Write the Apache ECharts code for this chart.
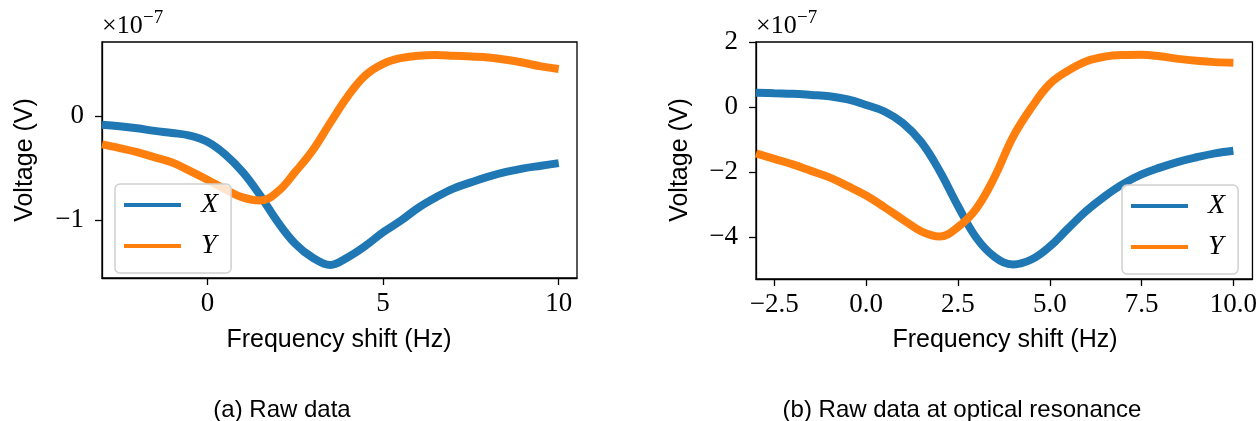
<!DOCTYPE html>
<html>
<head>
<meta charset="utf-8">
<title>Raw data</title>
<script src="https://cdn.jsdelivr.net/npm/echarts@6/dist/echarts.min.js"></script>
<style>
  html, body { margin: 0; padding: 0; background: #fff; }
  #chart { width: 1260px; height: 421px; }
</style>
</head>
<body>
<div id="chart"></div>
<script>
// frequency shift (Hz), same grid for all curves
const freq = [-3, -2.5, -2, -1.5, -1, -0.5, 0, 0.5, 1, 1.5, 2, 2.5, 3, 3.5, 4, 4.5, 5, 5.5, 6, 6.5, 7, 7.5, 8, 8.5, 9, 9.5, 10];

// (a) raw data, units of 1e-7 V
const rawX = [-0.085, -0.10, -0.12, -0.145, -0.165, -0.19, -0.25, -0.37, -0.54, -0.765, -1.02, -1.23, -1.365, -1.435, -1.36, -1.25, -1.12, -1.01, -0.885, -0.785, -0.70, -0.64, -0.585, -0.54, -0.505, -0.48, -0.455];
const rawY = [-0.275, -0.31, -0.35, -0.40, -0.45, -0.53, -0.615, -0.705, -0.785, -0.815, -0.73, -0.54, -0.33, -0.065, 0.19, 0.39, 0.50, 0.555, 0.578, 0.585, 0.578, 0.57, 0.56, 0.54, 0.51, 0.475, 0.45];

// (b) raw data at optical resonance, units of 1e-7 V
const resX = [0.44, 0.42, 0.405, 0.37, 0.33, 0.23, 0.06, -0.14, -0.50, -1.08, -1.97, -3.05, -4.03, -4.62, -4.85, -4.70, -4.30, -3.74, -3.20, -2.75, -2.37, -2.08, -1.87, -1.69, -1.55, -1.43, -1.35];
const resY = [-1.43, -1.60, -1.77, -1.97, -2.17, -2.44, -2.73, -3.09, -3.47, -3.83, -3.99, -3.70, -3.13, -2.15, -0.92, -0.02, 0.71, 1.12, 1.41, 1.55, 1.60, 1.61, 1.56, 1.48, 1.42, 1.38, 1.36];

// tick positions
const rawXTicks = [0, 5, 10];
const rawYTicks = [-1, 0];
const resXTicks = [-2.5, 0, 2.5, 5, 7.5, 10];
const resYTicks = [-4, -2, 0, 2];

const BLUE = "#1f77b4";
const ORANGE = "#ff7f0e";
const SERIF = "'Liberation Serif', 'DejaVu Serif', serif";
const SANS = "'Liberation Sans', Arial, sans-serif";

function pares(xs, ys) {
  return xs.map((x, i) => [x, ys[i]]);
}

function menos(txt) {
  return String(txt).replace("-", "\u2212");
}

function ejeX(idx, min, max, ticks, decimales) {
  return {
    type: "value",
    gridIndex: idx,
    min: min,
    max: max,
    splitLine: { show: false },
    axisLine: { show: true, onZero: false, lineStyle: { color: "#000", width: 1.3 } },
    axisTick: { show: true, customValues: ticks, length: 7, lineStyle: { color: "#000", width: 1.3 } },
    axisLabel: {
      customValues: ticks,
      margin: 12,
      color: "#000",
      fontFamily: SERIF,
      fontSize: 27,
      formatter: (v) => menos(v.toFixed(decimales)),
    },
  };
}

function ejeY(idx, min, max, ticks) {
  return {
    type: "value",
    gridIndex: idx,
    min: min,
    max: max,
    splitLine: { show: false },
    axisLine: { show: true, onZero: false, lineStyle: { color: "#000", width: 1.3 } },
    axisTick: { show: true, customValues: ticks, length: 7, lineStyle: { color: "#000", width: 1.3 } },
    axisLabel: {
      customValues: ticks,
      margin: 18,
      color: "#000",
      fontFamily: SERIF,
      fontSize: 27,
      formatter: (v) => menos(v.toFixed(0)),
    },
  };
}

function serie(nombre, idx, xs, ys, color) {
  return {
    name: nombre,
    type: "line",
    xAxisIndex: idx,
    yAxisIndex: idx,
    data: pares(xs, ys),
    showSymbol: false,
    smooth: 0.4,
    lineStyle: { color: color, width: 8 },
    itemStyle: { color: color },
    emphasis: { disabled: true },
  };
}

function leyenda(left, top) {
  return {
    data: ["X", "Y"],
    orient: "vertical",
    left: left,
    top: top,
    icon: "rect",
    itemWidth: 57,
    itemHeight: 4,
    itemGap: 13,
    padding: [7, 13, 13, 9],
    backgroundColor: "rgba(255,255,255,0.8)",
    borderColor: "#d0d0d0",
    borderWidth: 1.5,
    borderRadius: 5,
    selectedMode: false,
    textStyle: {
      fontFamily: SERIF,
      fontStyle: "italic",
      fontSize: 28,
      lineHeight: 25,
      color: "#000",
      padding: [0, 0, 0, 15],
    },
  };
}

function texto(t, x, y, size, opts) {
  return Object.assign(
    {
      type: "text",
      x: x,
      y: y,
      style: {
        text: t,
        fill: "#000",
        font: size + "px " + SANS,
        textAlign: "center",
        textVerticalAlign: "middle",
      },
    },
    opts || {}
  );
}

function exponente(x) {
  return [
    {
      type: "text",
      x: x,
      y: 26,
      style: { text: "\u00d710", fill: "#000", font: "26px " + SERIF, textAlign: "left", textVerticalAlign: "middle" },
    },
    {
      type: "text",
      x: x + 41,
      y: 18,
      style: { text: "\u22127", fill: "#000", font: "19px " + SERIF, textAlign: "left", textVerticalAlign: "middle" },
    },
  ];
}

var myChart = echarts.init(document.getElementById("chart"), null, { renderer: "canvas" });

var option = {
  animation: false,
  backgroundColor: "#fff",
  grid: [
    { left: 102, top: 42, width: 475, height: 236, show: true, borderColor: "#000", borderWidth: 1.3 },
    { left: 756, top: 42, width: 497, height: 237, show: true, borderColor: "#000", borderWidth: 1.3 },
  ],
  xAxis: [ejeX(0, -3.0, 10.52, rawXTicks, 0), ejeX(1, -3.0, 10.52, resXTicks, 1)],
  yAxis: [ejeY(0, -1.56, 0.71, rawYTicks), ejeY(1, -5.3, 2.0, resYTicks)],
  legend: [leyenda(115, 184), leyenda(1122, 185)],
  series: [
    serie("X", 0, freq, rawX, BLUE),
    serie("Y", 0, freq, rawY, ORANGE),
    serie("X", 1, freq, resX, BLUE),
    serie("Y", 1, freq, resY, ORANGE),
  ],
  graphic: [
    texto("Voltage (V)", 25, 160, 25, { rotation: Math.PI / 2 }),
    texto("Voltage (V)", 680, 160, 25, { rotation: Math.PI / 2 }),
    texto("Frequency shift (Hz)", 339, 340, 25),
    texto("Frequency shift (Hz)", 1005, 340, 25),
    texto("(a) Raw data", 282, 410, 24),
    texto("(b) Raw data at optical resonance", 962, 410, 24),
  ]
    .concat(exponente(102))
    .concat(exponente(756)),
};

myChart.setOption(option);
window.addEventListener("resize", myChart.resize);
</script>
</body>
</html>
